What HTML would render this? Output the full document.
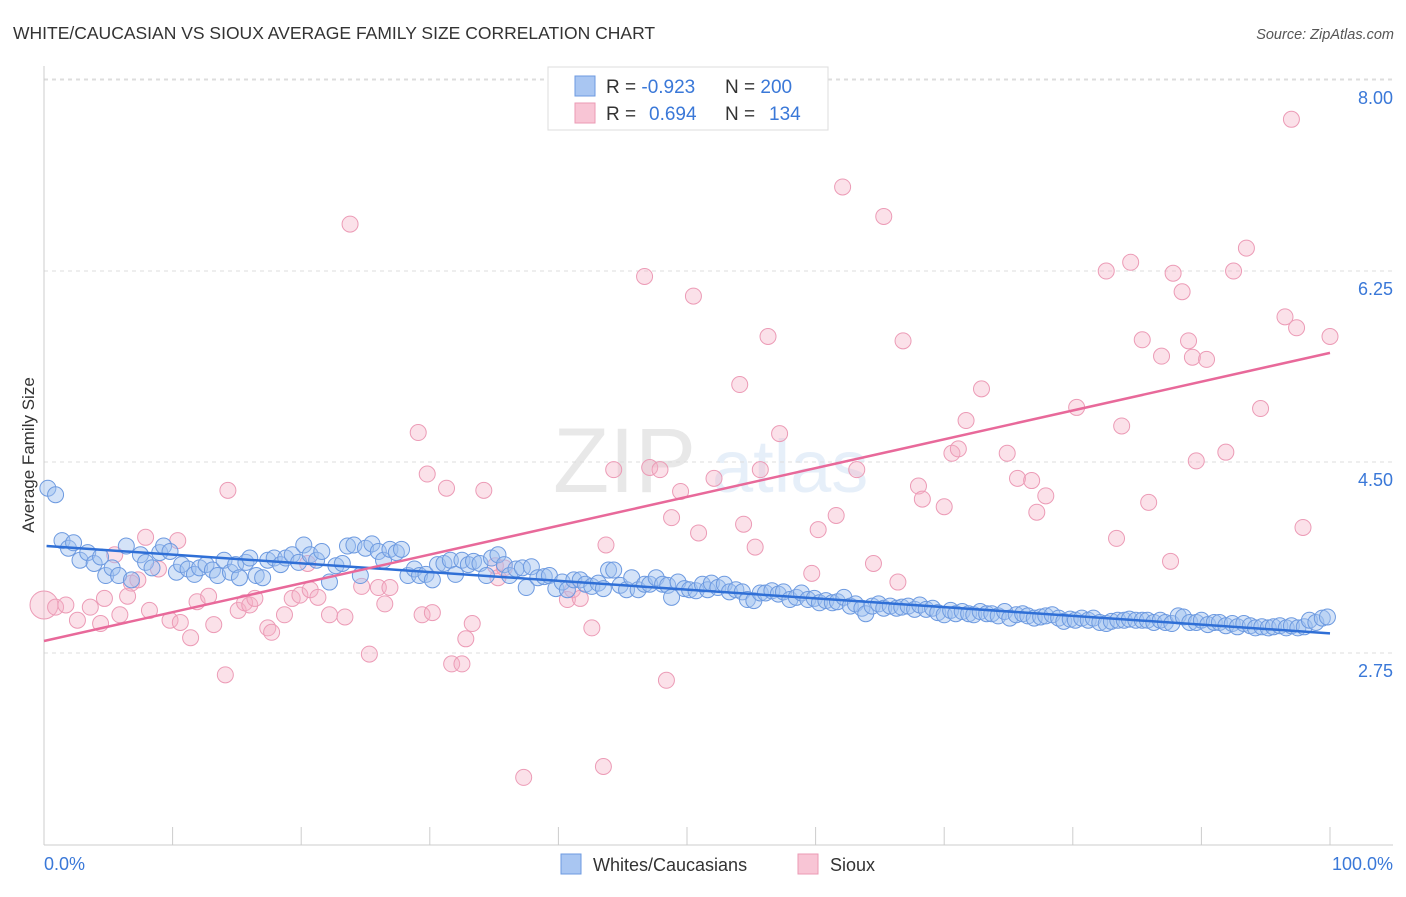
<!DOCTYPE html>
<html><head><meta charset="utf-8">
<style>
body{margin:0;background:#fff;font-family:"Liberation Sans",sans-serif;}
svg text{font-family:"Liberation Sans",sans-serif;}
</style></head>
<body>
<svg id="chart" width="1406" height="892" viewBox="0 0 1406 892" xmlns="http://www.w3.org/2000/svg">
<text x="13" y="39" font-size="17.5" fill="#333">WHITE/CAUCASIAN VS SIOUX AVERAGE FAMILY SIZE CORRELATION CHART</text>
<text x="1394" y="39" font-size="14.5" fill="#555" font-style="italic" text-anchor="end">Source: ZipAtlas.com</text>
<g opacity="0.16">
<text x="553" y="492" font-size="92" font-family="Liberation Serif, serif" fill="#777">ZIP</text>
<text x="712" y="492" font-size="74" fill="#6a9ee0">atlas</text>
</g>
<g id="grid"></g>
<g id="axes"></g>
<g id="trends"></g>
<g id="pts"></g>
<text x="34" y="455" font-size="17" fill="#333" text-anchor="middle" transform="rotate(-90 34 455)">Average Family Size</text>
<g>
<rect x="548" y="67" width="280" height="63" fill="#fff" stroke="#ddd"/>
<rect x="575" y="76" width="20" height="20" fill="#a9c6f2" stroke="#6d9ae0"/>
<rect x="575" y="103" width="20" height="20" fill="#f8c5d5" stroke="#eb9ab4"/>
<text x="606" y="93" font-size="19" fill="#333">R = <tspan fill="#3a78d8">-0.923</tspan><tspan x="725">N = </tspan><tspan fill="#3a78d8">200</tspan></text>
<text x="606" y="120" font-size="19" fill="#333">R = <tspan x="649" fill="#3a78d8">0.694</tspan><tspan x="725">N = </tspan><tspan x="769" fill="#3a78d8">134</tspan></text>
</g>
<g>
<rect x="561" y="854" width="20" height="20" fill="#a9c6f2" stroke="#6d9ae0"/>
<text x="593" y="871" font-size="18" fill="#333">Whites/Caucasians</text>
<rect x="798" y="854" width="20" height="20" fill="#f8c5d5" stroke="#eb9ab4"/>
<text x="830" y="871" font-size="18" fill="#333">Sioux</text>
</g>
<text x="44" y="870" font-size="18" fill="#3a78d8">0.0%</text>
<text x="1393" y="870" font-size="18" fill="#3a78d8" text-anchor="end">100.0%</text>
</svg>
<script>
const yTicks=[2.75,4.50,6.25,8.00];
const yTickLabels=["2.75","4.50","6.25","8.00"];
const xTicks=[0,10,20,30,40,50,60,70,80,90,100];
const blueX=[0.3,0.9,1.4,1.9,2.3,2.8,3.4,3.9,4.4,4.8,5.3,5.8,6.4,6.8,7.5,7.9,8.4,9.0,9.3,9.8,10.3,10.7,11.2,11.7,12.1,12.6,13.1,13.5,14.0,14.5,14.9,15.2,15.7,16.0,16.5,17.0,17.4,17.9,18.4,18.8,19.3,19.8,20.2,20.7,21.2,21.6,22.2,22.7,23.2,23.6,24.1,24.6,25.0,25.5,26.0,26.4,26.9,27.4,27.8,28.3,28.8,29.2,29.7,30.2,30.6,31.1,31.6,32.0,32.5,33.0,33.4,33.9,34.4,34.8,35.3,35.8,36.2,36.7,37.2,37.5,37.9,38.4,38.9,39.3,39.8,40.3,40.7,41.2,41.7,42.1,42.6,43.1,43.5,43.9,44.3,44.8,45.3,45.7,46.2,46.7,47.1,47.6,48.1,48.5,48.8,49.3,49.8,50.2,50.7,51.2,51.6,51.9,52.4,52.9,53.3,53.8,54.3,54.7,55.2,55.7,56.1,56.6,57.1,57.5,58.0,58.5,58.9,59.4,59.9,60.3,60.8,61.3,61.7,62.2,62.7,63.1,63.6,63.9,64.4,64.9,65.3,65.8,66.3,66.7,67.2,67.7,68.1,68.6,69.1,69.5,70.0,70.5,70.9,71.4,71.9,72.3,72.8,73.3,73.7,74.2,74.7,75.1,75.6,76.1,76.5,77.0,77.5,77.9,78.4,78.9,79.3,79.8,80.2,80.7,81.2,81.6,82.1,82.6,83.0,83.5,84.0,84.4,84.9,85.4,85.8,86.3,86.8,87.2,87.7,88.2,88.6,89.1,89.6,90.0,90.5,91.0,91.4,91.9,92.4,92.8,93.3,93.8,94.2,94.7,95.2,95.6,96.1,96.6,97.0,97.5,98.0,98.4,98.9,99.4,99.8];
const blueY=[4.26,4.20,3.78,3.71,3.76,3.60,3.67,3.57,3.63,3.46,3.53,3.46,3.73,3.42,3.65,3.58,3.53,3.67,3.73,3.68,3.49,3.56,3.52,3.47,3.53,3.56,3.51,3.46,3.60,3.49,3.56,3.44,3.58,3.62,3.46,3.44,3.60,3.62,3.56,3.62,3.65,3.58,3.74,3.65,3.60,3.68,3.40,3.55,3.57,3.73,3.74,3.46,3.71,3.75,3.68,3.60,3.70,3.67,3.70,3.46,3.52,3.46,3.47,3.42,3.56,3.57,3.60,3.47,3.60,3.56,3.59,3.57,3.46,3.62,3.65,3.56,3.46,3.52,3.53,3.35,3.54,3.44,3.45,3.46,3.34,3.40,3.33,3.42,3.42,3.38,3.36,3.39,3.34,3.51,3.51,3.37,3.33,3.44,3.33,3.38,3.38,3.44,3.38,3.37,3.26,3.40,3.34,3.33,3.32,3.38,3.33,3.39,3.35,3.38,3.31,3.33,3.31,3.24,3.23,3.30,3.30,3.32,3.29,3.31,3.24,3.26,3.30,3.24,3.25,3.21,3.23,3.21,3.22,3.26,3.18,3.20,3.16,3.11,3.18,3.20,3.16,3.18,3.16,3.17,3.18,3.15,3.19,3.15,3.16,3.12,3.10,3.14,3.11,3.13,3.11,3.10,3.13,3.11,3.11,3.09,3.13,3.07,3.10,3.11,3.09,3.07,3.08,3.09,3.10,3.07,3.04,3.06,3.05,3.07,3.05,3.07,3.03,3.02,3.04,3.05,3.05,3.06,3.05,3.05,3.05,3.03,3.05,3.03,3.02,3.09,3.08,3.03,3.03,3.05,3.01,3.03,3.03,3.00,3.02,2.99,3.02,3.00,2.98,2.99,2.98,2.99,3.00,2.98,3.00,2.98,2.99,3.05,3.03,3.07,3.08,3.12];
const pinkX=[0,0.9,1.7,2.6,3.6,4.4,4.7,5.5,5.9,6.5,6.8,7.3,7.9,8.2,8.9,9.8,10.4,10.6,11.4,11.9,12.8,13.2,14.1,14.3,15.1,15.6,16.0,16.4,17.4,17.7,18.7,19.3,19.9,20.5,20.7,21.3,22.2,23.4,23.8,24.7,25.3,26.0,26.5,26.9,29.1,29.4,29.8,30.2,31.3,31.7,32.5,32.8,33.3,34.2,35.1,35.3,35.8,37.3,40.7,41.1,41.7,42.6,43.5,43.7,44.3,46.7,47.1,47.9,48.4,48.8,49.5,50.5,50.9,52.1,54.1,54.4,55.3,55.7,56.3,57.2,59.7,60.2,61.6,62.1,63.2,64.5,65.3,66.4,66.8,68.0,68.3,70.0,70.6,71.1,71.7,72.9,74.9,75.7,76.8,77.2,77.9,80.3,82.6,83.4,83.8,84.5,85.4,85.9,86.9,87.6,87.8,88.5,89.0,89.3,89.6,90.4,91.9,92.5,93.5,94.6,96.5,97.0,97.4,97.9,100];
const pinkY=[3.19,3.17,3.19,3.05,3.17,3.02,3.25,3.65,3.10,3.27,3.39,3.42,3.81,3.14,3.52,3.05,3.78,3.03,2.89,3.22,3.27,3.01,2.55,4.24,3.14,3.21,3.19,3.25,2.98,2.94,3.10,3.25,3.28,3.57,3.33,3.26,3.10,3.08,6.68,3.36,2.74,3.35,3.20,3.35,4.77,3.10,4.39,3.12,4.26,2.65,2.65,2.88,3.02,4.24,3.55,3.44,3.53,1.61,3.24,3.33,3.25,2.98,1.71,3.74,4.43,6.20,4.45,4.43,2.50,3.99,4.23,6.02,3.85,4.35,5.21,3.93,3.72,4.43,5.65,4.76,3.48,3.88,4.01,7.02,4.43,3.57,6.75,3.40,5.61,4.28,4.16,4.09,4.58,4.62,4.88,5.17,4.58,4.35,4.33,4.04,4.19,5.00,6.25,3.80,4.83,6.33,5.62,4.13,5.47,3.59,6.23,6.06,5.61,5.46,4.51,5.44,4.59,6.25,6.46,4.99,5.83,7.64,5.73,3.90,5.65];
const blueTrendX=[0.2,100];
const blueTrendY=[3.73,2.93];
const pinkTrendX=[0,100];
const pinkTrendY=[2.86,5.50];

const NS="http://www.w3.org/2000/svg";
const X0=44,X1=1330,Y275=653,PXU=109.14;
function sx(p){return X0+(X1-X0)*p/100;}
function sy(v){return Y275-(v-2.75)*PXU;}
function mk(tag,attrs,parent){const e=document.createElementNS(NS,tag);for(const k in attrs)e.setAttribute(k,attrs[k]);parent.appendChild(e);return e;}
const grid=document.getElementById('grid'),axes=document.getElementById('axes'),trends=document.getElementById('trends'),pts=document.getElementById('pts');
yTicks.forEach((v,i)=>{
  const l=mk('line',{x1:44,x2:1393,y1:sy(v),y2:sy(v),stroke:'#ddd','stroke-dasharray':'4,4','stroke-width':1},grid);
  
  
  const t=mk('text',{x:1393,y:sy(v)+24,'font-size':18,fill:'#3a78d8','text-anchor':'end'},axes);
  t.textContent=yTickLabels[i];
  
  
});
const topL=mk('line',{x1:44,x2:1393,y1:79,y2:79,stroke:'#ddd','stroke-dasharray':'4,4'},grid);


const ya=mk('line',{x1:44,x2:44,y1:66,y2:845,stroke:'#ccc'},axes);


const xa=mk('line',{x1:44,x2:1393,y1:845,y2:845,stroke:'#ccc'},axes);


xTicks.forEach(p=>{
  const t=mk('line',{x1:sx(p),x2:sx(p),y1:827,y2:845,stroke:'#ccc'},axes);
  
  
});
pinkX.forEach((p,i)=>{
  const c=mk('circle',{cx:sx(p),cy:sy(pinkY[i]),r:i===0?14:8,fill:'rgba(245,175,198,0.38)',stroke:'#ec9bb6','stroke-width':1},pts);
  
  
});
blueX.forEach((p,i)=>{
  const c=mk('circle',{cx:sx(p),cy:sy(blueY[i]),r:8,fill:'rgba(160,192,240,0.45)',stroke:'#6d9ae0','stroke-width':1},pts);
  
  
});
const bt=mk('line',{x1:sx(blueTrendX[0]),y1:sy(blueTrendY[0]),x2:sx(blueTrendX[1]),y2:sy(blueTrendY[1]),stroke:'#2f6fd6','stroke-width':2.5},trends);


const pt=mk('line',{x1:sx(pinkTrendX[0]),y1:sy(pinkTrendY[0]),x2:sx(pinkTrendX[1]),y2:sy(pinkTrendY[1]),stroke:'#e8699a','stroke-width':2.5},trends);


document.getElementById('chart').appendChild(trends);
</script>
</body></html>
